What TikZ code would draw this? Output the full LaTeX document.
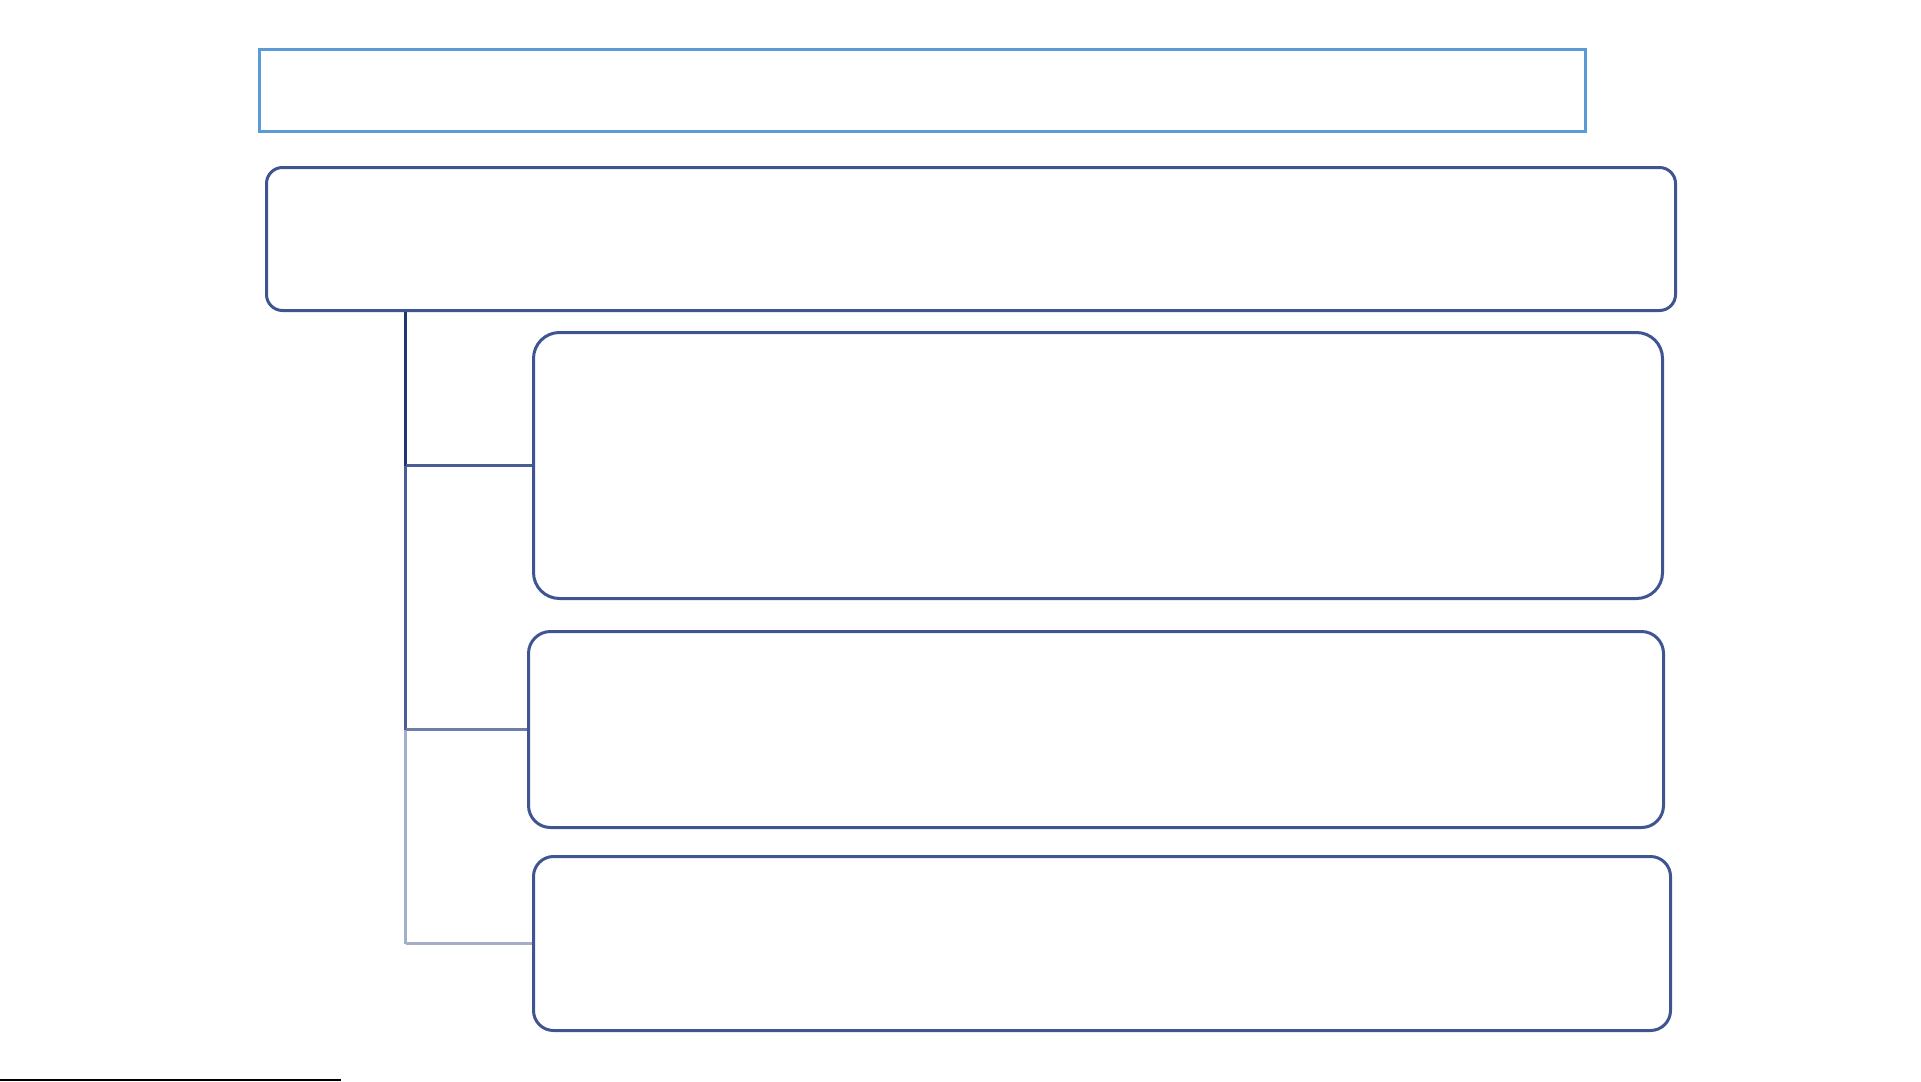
\documentclass[tikz,border=0pt]{standalone}
\usetikzlibrary{calc}
\definecolor{titleblue}{HTML}{5B9BD5}
\definecolor{boxnavy}{HTML}{3E5592}
\definecolor{trunkA}{HTML}{1F3570}
\definecolor{trunkB}{HTML}{4A5D94}
\definecolor{trunkC}{HTML}{A3AEC9}
\definecolor{connB}{HTML}{6E7EA8}
\tikzset{
  titlebox/.style={draw=titleblue, line width=2.8pt, rectangle, inner sep=0pt, anchor=north west},
  navybox/.style={draw=boxnavy, line width=3pt, rectangle, rounded corners=#1, inner sep=0pt, anchor=north west},
  link/.style={line width=3pt}
}
\begin{document}
\begin{tikzpicture}[x=1pt,y=-1pt]
\useasboundingbox (0,0) rectangle (1921,1081);
\node[titlebox, minimum width=1326pt, minimum height=82pt] (title) at (258,48) {};
\node[navybox=16pt, minimum width=1409pt, minimum height=143pt] (top) at (265,166) {};
\node[navybox=26pt, minimum width=1129pt, minimum height=266pt] (b1) at (532,331) {};
\node[navybox=22pt, minimum width=1135pt, minimum height=196pt] (b2) at (527,630) {};
\node[navybox=20pt, minimum width=1137pt, minimum height=174pt] (b3) at (532,855) {};
\coordinate (j0) at ([xshift=140.7pt]top.south west);
\coordinate (j1) at (j0 |- b1.west);
\coordinate (j2) at (j0 |- b2.west);
\coordinate (j3) at (j0 |- b3.west);
\draw[link, trunkA] (j0) -- (j1);
\draw[link, trunkB] (j1) -- (j2);
\draw[link, trunkC] (j2) -- (j3);
\draw[link, trunkB] (j1) -- (b1.west);
\draw[link, connB] (j2) -- (b2.west);
\draw[link, trunkC] (j3) -- (b3.west);
\coordinate (bl0) at (0,1080);
\coordinate (bl1) at (341,1080);
\draw[line width=1.5pt, black] (bl0) -- (bl1);
\end{tikzpicture}
\end{document}
